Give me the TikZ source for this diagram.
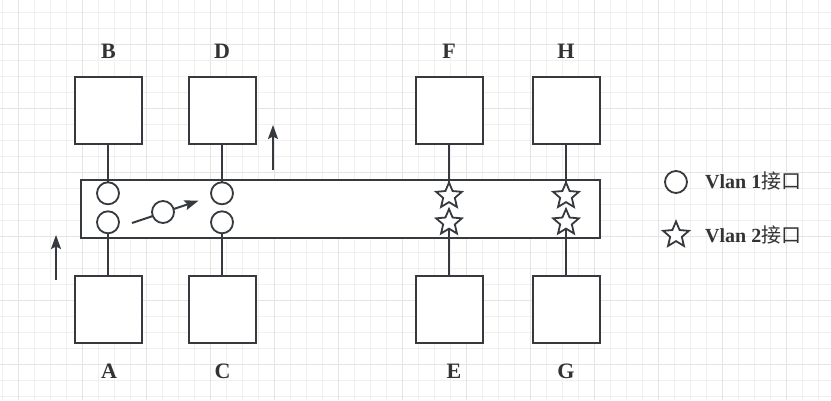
\documentclass[tikz,border=0pt]{standalone}
\usepackage{fontspec}
\setmainfont{Liberation Serif}
\newfontfamily\cjk{Noto Sans CJK SC}
\usetikzlibrary{shapes.geometric,arrows.meta}
\definecolor{ink}{HTML}{36393D}
\definecolor{txt}{HTML}{333333}
\definecolor{gridminor}{HTML}{F0F0F0}
\definecolor{gridmajor}{HTML}{E4E4E4}
\tikzset{
  hostbox/.style={draw=ink, line width=2pt, fill=white, minimum width=67pt, minimum height=67pt, inner sep=0pt, outer sep=0pt},
  barbox/.style={draw=ink, line width=2pt, fill=white, minimum width=519pt, minimum height=58pt, inner sep=0pt, outer sep=0pt},
  port1/.style={draw=ink, line width=1.8pt, fill=white, circle, minimum size=22pt, inner sep=0pt, outer sep=0pt},
  port2/.style={draw=ink, line width=1.8pt, fill=white, star, star points=5, star point ratio=2.2, minimum size=27pt, inner sep=0pt, outer sep=0pt},
  wire/.style={draw=ink, line width=2pt},
  flow/.style={draw=ink, line width=2pt, -{Stealth[length=14pt, width=10pt, inset=2.5pt]}},
  lbl/.style={text=txt, font=\fontsize{22}{24}\selectfont\bfseries, anchor=base, inner sep=0pt},
  leg/.style={text=txt, font=\fontsize{20}{22}\selectfont\bfseries, anchor=base west, inner sep=0pt}
}
\begin{document}
\begin{tikzpicture}[x=1pt, y=-1pt]
\useasboundingbox (0,0) rectangle (831,400);
\fill[white] (0,0) rectangle (831,400);
% grid
\foreach \i in {0,...,52} {\draw[gridminor, line width=1pt] ({2.5+16*\i},0) -- ({2.5+16*\i},400);}
\foreach \j in {0,...,25} {\draw[gridminor, line width=1pt] (0,{12.5+16*\j}) -- (831,{12.5+16*\j});}
\foreach \i in {0,...,13} {\draw[gridmajor, line width=1pt] ({18.5+64*\i},0) -- ({18.5+64*\i},400);}
\foreach \j in {0,...,6} {\draw[gridmajor, line width=1pt] (0,{44.5+64*\j}) -- (831,{44.5+64*\j});}

% boxes
\node[hostbox] (B) at (108.5,110.5) {};
\node[hostbox] (D) at (222,110.5) {};
\node[hostbox] (F) at (449,110.5) {};
\node[hostbox] (H) at (566,110.5) {};
\node[hostbox] (A) at (108.5,309) {};
\node[hostbox] (C) at (222,309) {};
\node[hostbox] (E) at (449,309) {};
\node[hostbox] (G) at (566,309) {};
\node[barbox] (bar) at (340.5,208.5) {};

% labels
\node[lbl] (lB) at (108.5,58.5) {B};
\node[lbl] (lD) at (222,58.5) {D};
\node[lbl] (lF) at (449,58.5) {F};
\node[lbl] (lH) at (566,58.5) {H};
\node[lbl] (lA) at (109,378) {A};
\node[lbl] (lC) at (222.5,378) {C};
\node[lbl] (lE) at (454,378) {E};
\node[lbl] (lG) at (566,378) {G};

% wires
\coordinate (wB) at (108,182.3);
\coordinate (wA) at (108,233.3);
\coordinate (wD) at (222,182.3);
\coordinate (wC) at (222,233.3);
\draw[wire] (B.south -| wB) -- (wB);
\draw[wire] (A.north -| wA) -- (wA);
\draw[wire] (D.south) -- (wD);
\draw[wire] (C.north) -- (wC);

% ports vlan1
\node[port1] (pB) at (108,193.3) {};
\node[port1] (pA) at (108,222.3) {};
\node[port1] (pD) at (222,193.3) {};
\node[port1] (pC) at (222,222.3) {};

% ports vlan2
\node[port2] (pF) at (449,196) {};
\node[port2] (pE) at (449,222.5) {};
\node[port2] (pH) at (566,196) {};
\node[port2] (pG) at (566,222.5) {};
\draw[wire] (F.south) -- (pF.north);
\draw[wire] (E.north) -- (pE.south);
\draw[wire] (H.south) -- (pH.north);
\draw[wire] (G.north) -- (pG.south);

% flow arrows
\coordinate (m0) at (132,223);
\coordinate (m1) at (198.5,200.7);
\draw[flow] (m0) -- (m1);
\node[port1] (pm) at (163,212) {};
\coordinate (u0) at (56,280);
\coordinate (u1) at (56,235);
\draw[flow] (u0) -- (u1);
\coordinate (v0) at (273,170);
\coordinate (v1) at (273,125);
\draw[flow] (v0) -- (v1);

% legend
\node[port1] (k1) at (676,182) {};
\node[leg] (t1) at (705,188.3) {Vlan 1{\cjk\mdseries 接口}};
\node[port2] (k2) at (676,235) {};
\node[leg] (t2) at (705,242.7) {Vlan 2{\cjk\mdseries 接口}};
\end{tikzpicture}
\end{document}
